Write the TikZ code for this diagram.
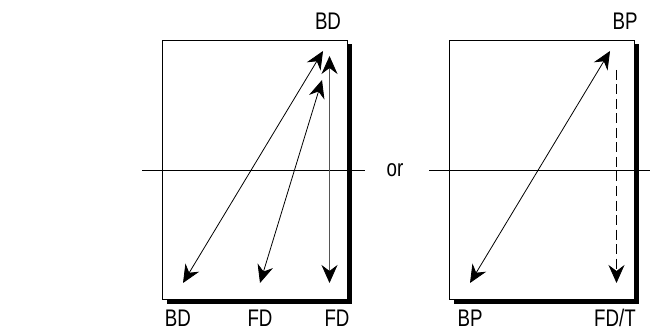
\documentclass[tikz,border=0pt]{standalone}
\usepackage{fontspec}
\setmainfont{Liberation Sans}[FakeStretch=0.78]
\usetikzlibrary{arrows.meta}
\definecolor{vertc}{HTML}{555555}
\tikzset{
  panel/.style={draw=black,fill=white,line width=0.9pt},
  shade/.style={fill=black},
  lab/.style={font=\fontsize{24}{28}\selectfont,inner sep=0pt,anchor=base},
  ray/.style={line width=0.8pt,{Stealth[length=18pt,width=16pt,inset=6pt,color=black]}-{Stealth[length=18pt,width=16pt,inset=6pt,color=black]}},
  axis/.style={line width=0.9pt}
}

\begin{document}
\begin{tikzpicture}[x=1pt,y=-1pt]
    \useasboundingbox (0,0) rectangle (650,331);
    % boxes with shadow
    \foreach \lx/\rx in {162/347, 449/634} {
      \fill[shade] (\lx+4.5,44) rectangle (\rx+5,303.5);
      \draw[panel] (\lx,40) rectangle (\rx,299);
    }
    % axis lines and the word between
    \node[lab] (or) at (395,176.5) {or};
    \coordinate (axLa) at (142,170);
    \coordinate (axLb) at (365,170);
    \coordinate (axRa) at (429,170);
    \coordinate (axRb) at (650,170);
    \draw[axis] (axLa) -- (axLb);
    \draw[axis] (axRa) -- (axRb);
    % labels
    \foreach \nm/\px/\py/\txt in {tBD/328/30/BD, bBDa/178/326/BD, bFDa/260/326/FD, bFDb/337/326/FD, tBP/625/30/BP, bBP/470/326/BP, bFDT/615/326/{FD/T}} {
      \node[lab] (\nm) at (\px,\py) {\txt};
    }
    % ray ends, left
    \coordinate (la) at (183,283);
    \coordinate (lb) at (323,51);
    \coordinate (lc) at (260,283);
    \coordinate (ld) at (322,80);
    \coordinate (le) at (329.5,283);
    \coordinate (lf) at (329.5,56);
    % ray ends, right
    \coordinate (ra) at (470,283);
    \coordinate (rb) at (610,51);
    \coordinate (rc) at (616.5,70);
    \coordinate (rd) at (616.5,283);
    \draw[ray] (la) -- (lb);
    \draw[ray] (lc) -- (ld);
    \draw[ray,draw=vertc] (le) -- (lf);
    \draw[ray] (ra) -- (rb);
    \draw[line width=0.8pt,dash pattern=on 10pt off 4.5pt,-{Stealth[length=18pt,width=16pt,inset=6pt]}] (rc) -- (rd);
  \end{tikzpicture}
\end{document}
